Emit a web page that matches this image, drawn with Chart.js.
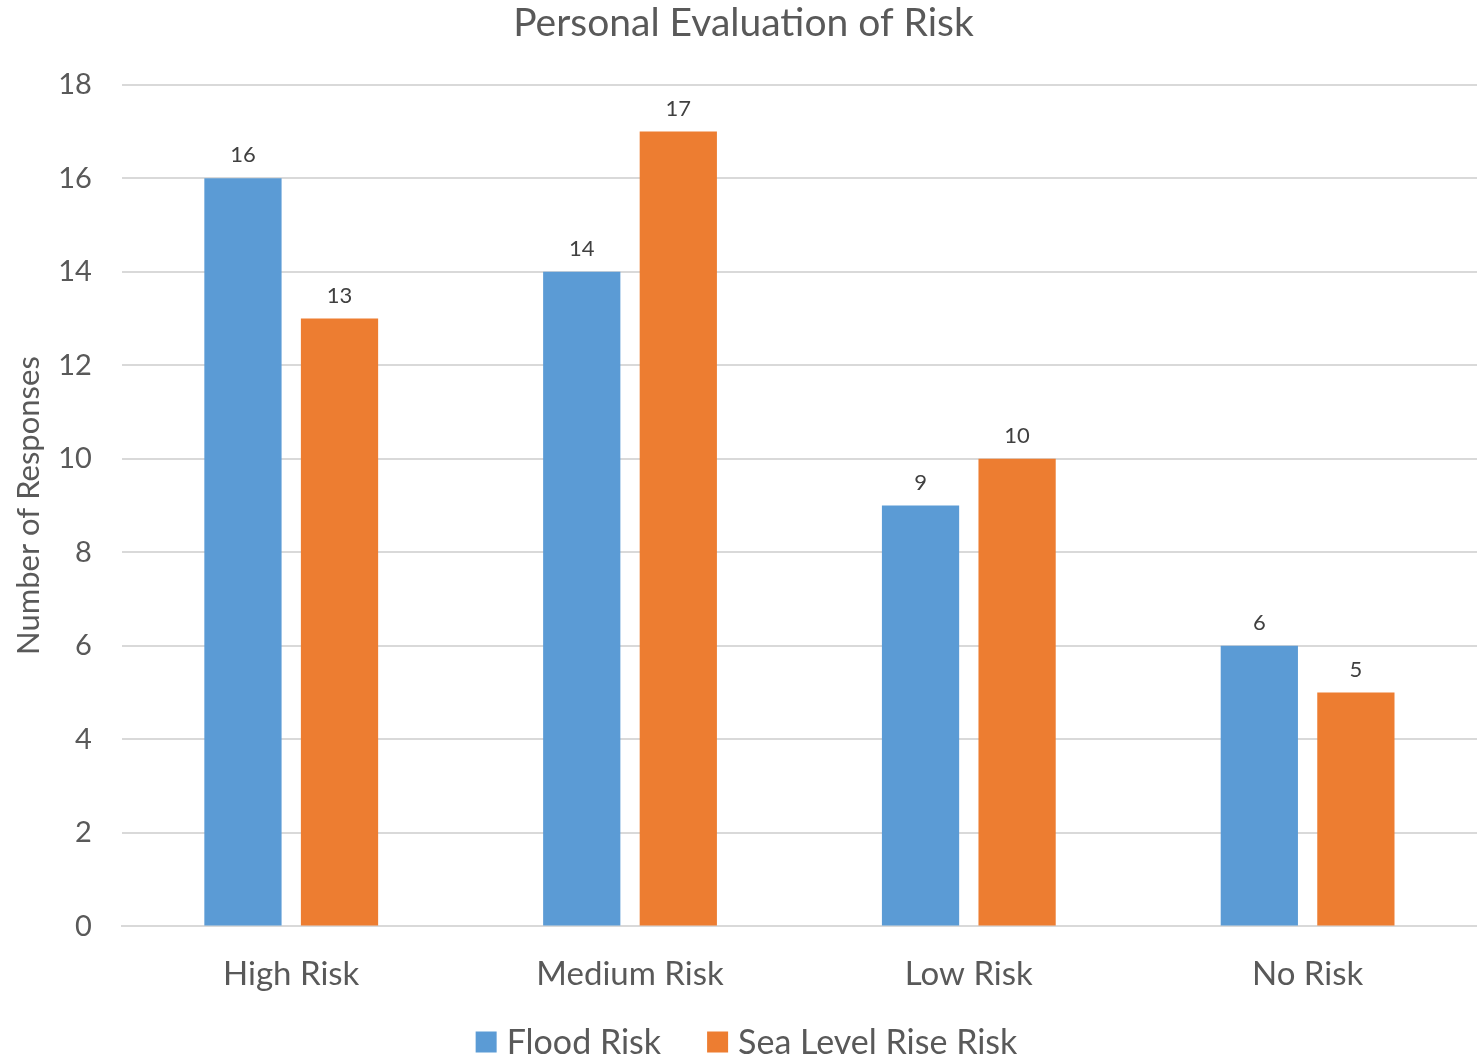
<!DOCTYPE html>
<html>
<head>
<meta charset="utf-8">
<script src="https://cdn.jsdelivr.net/npm/chart.js@4/dist/chart.umd.min.js"></script>
<style>
  html, body { margin: 0; padding: 0; background: #fff; }
  #wrap { width: 1477px; height: 1059px; }
</style>
</head>
<body>
<div id="wrap"><canvas id="myChart"></canvas></div>
<script>
var categories = ["High Risk", "Medium Risk", "Low Risk", "No Risk"];
var floodRisk = [16, 14, 9, 6];
var seaLevelRisk = [13, 17, 10, 5];
var yTicks = [0, 2, 4, 6, 8, 10, 12, 14, 16, 18];

var fontFam = "Lato, 'Open Sans', sans-serif";
var grey = "#595959";

// draw the value above each bar
var valueLabels = {
    id: "valueLabels",
    afterDatasetsDraw: function(chart) {
        var ctx = chart.ctx;
        ctx.save();
        ctx.font = "22px " + fontFam;
        ctx.fillStyle = "#404040";
        ctx.textAlign = "center";
        ctx.textBaseline = "bottom";
        chart.data.datasets.forEach(function(ds, i) {
            chart.getDatasetMeta(i).data.forEach(function(bar, j) {
                ctx.fillText(ds.data[j], bar.x, bar.y - 12);
            });
        });
        ctx.restore();
    }
};

// excel style legend at the bottom (wide gap between items, tight box/text gap)
var bottomLegend = {
    id: "bottomLegend",
    afterDraw: function(chart) {
        var ctx = chart.ctx;
        var box = 21, gap = 10, itemGap = 46;
        var y = 1042;
        ctx.save();
        ctx.font = "34px " + fontFam;
        ctx.textBaseline = "middle";
        ctx.textAlign = "left";
        var sets = chart.data.datasets;
        var total = 0;
        sets.forEach(function(ds, i) {
            total += box + gap + ctx.measureText(ds.label).width;
            if (i > 0) total += itemGap;
        });
        var x = chart.width / 2 + 8 - total / 2;
        sets.forEach(function(ds) {
            ctx.fillStyle = ds.backgroundColor;
            ctx.fillRect(x, y - box / 2, box, box);
            x += box + gap;
            ctx.fillStyle = grey;
            ctx.fillText(ds.label, x, y + 1);
            x += ctx.measureText(ds.label).width + itemGap;
        });
        ctx.restore();
    }
};

Chart.defaults.font.family = fontFam;
Chart.defaults.color = grey;

new Chart("myChart", {
    type: "bar",
    data: {
        labels: categories,
        datasets: [{
            label: "Flood Risk",
            data: floodRisk,
            backgroundColor: "#5B9BD5",
            categoryPercentage: 0.57,
            barPercentage: 0.8
        }, {
            label: "Sea Level Rise Risk",
            data: seaLevelRisk,
            backgroundColor: "#ED7D31",
            categoryPercentage: 0.57,
            barPercentage: 0.8
        }]
    },
    options: {
        responsive: true,
        maintainAspectRatio: false,
        animation: false,
        layout: { padding: { left: 10, right: 0, top: 0, bottom: 45 } },
        plugins: {
            title: {
                display: true,
                text: "Personal Evaluation of Risk",
                color: grey,
                font: { size: 39, weight: "normal" },
                padding: { top: 0, bottom: 38 }
            },
            legend: { display: false },
            tooltip: { enabled: false }
        },
        scales: {
            x: {
                grid: { display: false },
                border: { display: true, color: "#d9d9d9", width: 2 },
                ticks: { color: grey, font: { size: 33 }, padding: 20 }
            },
            y: {
                min: 0,
                max: 18,
                afterBuildTicks: function(axis) {
                    axis.ticks = yTicks.map(function(v) { return { value: v }; });
                },
                grid: { color: "#d9d9d9", lineWidth: 2, drawTicks: false },
                border: { display: false },
                ticks: { color: grey, font: { size: 29 }, padding: 30 },
                title: {
                    display: true,
                    text: "Number of Responses",
                    color: grey,
                    font: { size: 31 },
                    padding: { top: 0, bottom: -19 }
                }
            }
        }
    },
    plugins: [valueLabels, bottomLegend]
});
</script>
</body>
</html>
